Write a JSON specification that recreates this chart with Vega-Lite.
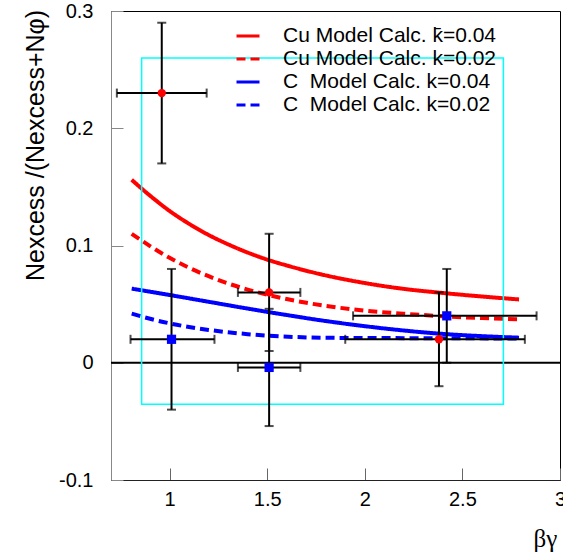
{
  "$schema": "https://vega.github.io/schema/vega-lite/v6.json",
  "width": 449,
  "height": 469,
  "autosize": "none",
  "padding": {"left": 111, "top": 11, "right": 3, "bottom": 73},
  "background": "white",
  "config": {"font": "Liberation Sans", "view": {"stroke": "#000", "strokeWidth": 1}},
  "datasets": {
    "pts": [
      {"mat": "Cu", "x": 0.96, "y": 0.23, "xlo": 0.73, "xhi": 1.19, "ylo": 0.17, "yhi": 0.29},
      {"mat": "Cu", "x": 1.51, "y": 0.06, "xlo": 1.35, "xhi": 1.67, "ylo": 0.01, "yhi": 0.11},
      {"mat": "Cu", "x": 2.38, "y": 0.02, "xlo": 1.9, "xhi": 2.82, "ylo": -0.02, "yhi": 0.06},
      {"mat": "C", "x": 1.01, "y": 0.02, "xlo": 0.8, "xhi": 1.23, "ylo": -0.04, "yhi": 0.08},
      {"mat": "C", "x": 1.51, "y": -0.004, "xlo": 1.35, "xhi": 1.67, "ylo": -0.054, "yhi": 0.046},
      {"mat": "C", "x": 2.42, "y": 0.04, "xlo": 1.94, "xhi": 2.88, "ylo": 0.0, "yhi": 0.08}
    ],
    "curves": [
      {"s": "Cu Model Calc. k\u0304=0.04", "x": 0.806, "y": 0.156},
      {"s": "Cu Model Calc. k\u0304=0.04", "x": 0.9, "y": 0.1425},
      {"s": "Cu Model Calc. k\u0304=0.04", "x": 1.0, "y": 0.1295},
      {"s": "Cu Model Calc. k\u0304=0.04", "x": 1.1, "y": 0.1185},
      {"s": "Cu Model Calc. k\u0304=0.04", "x": 1.2, "y": 0.109},
      {"s": "Cu Model Calc. k\u0304=0.04", "x": 1.3, "y": 0.101},
      {"s": "Cu Model Calc. k\u0304=0.04", "x": 1.4, "y": 0.094},
      {"s": "Cu Model Calc. k\u0304=0.04", "x": 1.5, "y": 0.088},
      {"s": "Cu Model Calc. k\u0304=0.04", "x": 1.6, "y": 0.083},
      {"s": "Cu Model Calc. k\u0304=0.04", "x": 1.8, "y": 0.0745},
      {"s": "Cu Model Calc. k\u0304=0.04", "x": 2.0, "y": 0.068},
      {"s": "Cu Model Calc. k\u0304=0.04", "x": 2.2, "y": 0.063},
      {"s": "Cu Model Calc. k\u0304=0.04", "x": 2.4, "y": 0.0595},
      {"s": "Cu Model Calc. k\u0304=0.04", "x": 2.6, "y": 0.0565},
      {"s": "Cu Model Calc. k\u0304=0.04", "x": 2.79, "y": 0.054},
      {"s": "Cu Model Calc. k=0.02", "x": 0.806, "y": 0.11},
      {"s": "Cu Model Calc. k=0.02", "x": 0.9, "y": 0.0995},
      {"s": "Cu Model Calc. k=0.02", "x": 1.0, "y": 0.0895},
      {"s": "Cu Model Calc. k=0.02", "x": 1.1, "y": 0.081},
      {"s": "Cu Model Calc. k=0.02", "x": 1.2, "y": 0.0738},
      {"s": "Cu Model Calc. k=0.02", "x": 1.3, "y": 0.0676},
      {"s": "Cu Model Calc. k=0.02", "x": 1.4, "y": 0.0624},
      {"s": "Cu Model Calc. k=0.02", "x": 1.5, "y": 0.058},
      {"s": "Cu Model Calc. k=0.02", "x": 1.6, "y": 0.0543},
      {"s": "Cu Model Calc. k=0.02", "x": 1.8, "y": 0.0485},
      {"s": "Cu Model Calc. k=0.02", "x": 2.0, "y": 0.0445},
      {"s": "Cu Model Calc. k=0.02", "x": 2.2, "y": 0.0418},
      {"s": "Cu Model Calc. k=0.02", "x": 2.4, "y": 0.0397},
      {"s": "Cu Model Calc. k=0.02", "x": 2.6, "y": 0.0381},
      {"s": "Cu Model Calc. k=0.02", "x": 2.79, "y": 0.037},
      {"s": "C\u00a0 Model Calc. k=0.04", "x": 0.806, "y": 0.0632},
      {"s": "C\u00a0 Model Calc. k=0.04", "x": 1.0, "y": 0.0578},
      {"s": "C\u00a0 Model Calc. k=0.04", "x": 1.2, "y": 0.052},
      {"s": "C\u00a0 Model Calc. k=0.04", "x": 1.4, "y": 0.0462},
      {"s": "C\u00a0 Model Calc. k=0.04", "x": 1.6, "y": 0.0407},
      {"s": "C\u00a0 Model Calc. k=0.04", "x": 1.8, "y": 0.0356},
      {"s": "C\u00a0 Model Calc. k=0.04", "x": 2.0, "y": 0.0312},
      {"s": "C\u00a0 Model Calc. k=0.04", "x": 2.2, "y": 0.0275},
      {"s": "C\u00a0 Model Calc. k=0.04", "x": 2.4, "y": 0.0246},
      {"s": "C\u00a0 Model Calc. k=0.04", "x": 2.6, "y": 0.0227},
      {"s": "C\u00a0 Model Calc. k=0.04", "x": 2.79, "y": 0.0214},
      {"s": "C\u00a0 Model Calc. k=0.02", "x": 0.806, "y": 0.0419},
      {"s": "C\u00a0 Model Calc. k=0.02", "x": 0.9, "y": 0.0375},
      {"s": "C\u00a0 Model Calc. k=0.02", "x": 1.0, "y": 0.0336},
      {"s": "C\u00a0 Model Calc. k=0.02", "x": 1.1, "y": 0.0305},
      {"s": "C\u00a0 Model Calc. k=0.02", "x": 1.2, "y": 0.028},
      {"s": "C\u00a0 Model Calc. k=0.02", "x": 1.3, "y": 0.026},
      {"s": "C\u00a0 Model Calc. k=0.02", "x": 1.4, "y": 0.0244},
      {"s": "C\u00a0 Model Calc. k=0.02", "x": 1.5, "y": 0.0231},
      {"s": "C\u00a0 Model Calc. k=0.02", "x": 1.65, "y": 0.0219},
      {"s": "C\u00a0 Model Calc. k=0.02", "x": 1.8, "y": 0.0213},
      {"s": "C\u00a0 Model Calc. k=0.02", "x": 2.2, "y": 0.021},
      {"s": "C\u00a0 Model Calc. k=0.02", "x": 2.79, "y": 0.0207}
    ],
    "box": [{"x1": 0.857, "x2": 2.71, "y1": -0.0355, "y2": 0.26}],
    "zero": [{"z": 0}]
  },
  "layer": [
    {
      "data": {"name": "curves"},
      "mark": {"type": "line", "strokeWidth": 4, "interpolate": "monotone"},
      "encoding": {
        "x": {"field": "x", "type": "quantitative", "scale": {"domain": [0.7, 3], "nice": false, "zero": false},
          "axis": {"title": "βγ", "titleFont": "Liberation Serif", "titleFontSize": 25, "titleFontWeight": "normal", "titleColor": "#000",
            "titleX": 434, "titleY": 58, "titleAlign": "center", "titleBaseline": "middle",
            "values": [1, 1.5, 2, 2.5, 3], "format": "~g", "labelFontSize": 20, "labelColor": "#000", "labelPadding": 21,
            "tickSize": -12, "tickColor": "#666", "domainColor": "#222", "grid": false, "labelFlush": false, "labelOverlap": false}},
        "y": {"field": "y", "type": "quantitative", "scale": {"domain": [-0.1, 0.3], "nice": false, "zero": false},
          "axis": {"title": "Nexcess /(Nexcess+Nφ)", "titleFontSize": 25, "titleFontWeight": "normal", "titleColor": "#000",
            "titleX": -76, "titleY": 134, "titleAlign": "center", "titleBaseline": "middle", "titleAngle": -90,
            "values": [-0.1, 0, 0.1, 0.2, 0.3], "labelExpr": "replace(format(datum.value, '~g'), '\u2212', '-')",
            "labelFontSize": 20, "labelColor": "#000", "labelPadding": 30, "labelBaseline": "middle",
            "tickSize": -12, "tickColor": "#888", "domainColor": "#888", "grid": false, "labelFlush": false, "labelOverlap": false}},
        "color": {"field": "s", "type": "nominal",
          "scale": {"domain": ["Cu Model Calc. k\u0304=0.04", "Cu Model Calc. k=0.02", "C\u00a0 Model Calc. k=0.04", "C\u00a0 Model Calc. k=0.02"],
            "range": ["#ff0000", "#ff0000", "#0000ff", "#0000ff"]},
          "legend": {"title": null, "orient": "none", "legendX": 124, "legendY": 12, "padding": 0, "symbolType": "stroke",
            "symbolSize": 529, "symbolStrokeWidth": 3, "labelFontSize": 21, "labelColor": "#000", "labelOffset": 22, "labelLimit": 400,
            "rowPadding": 0}},
        "strokeDash": {"field": "s", "type": "nominal",
          "scale": {"domain": ["Cu Model Calc. k\u0304=0.04", "Cu Model Calc. k=0.02", "C\u00a0 Model Calc. k=0.04", "C\u00a0 Model Calc. k=0.02"],
            "range": [[1, 0], [9, 5], [1, 0], [9, 5]]},
          "legend": {"title": null, "orient": "none", "legendX": 124, "legendY": 12}}
      }
    },
    {
      "data": {"name": "zero"},
      "mark": {"type": "rule", "color": "#000", "strokeWidth": 2},
      "encoding": {"y": {"field": "z", "type": "quantitative", "scale": {"domain": [-0.1, 0.3], "nice": false, "zero": false}}}
    },
    {
      "data": {"name": "box"},
      "mark": {"type": "rect", "fillOpacity": 0, "stroke": "#00ffff", "strokeWidth": 1.5},
      "encoding": {
        "x": {"field": "x1", "type": "quantitative", "scale": {"domain": [0.7, 3], "nice": false, "zero": false}},
        "x2": {"field": "x2"},
        "y": {"field": "y1", "type": "quantitative", "scale": {"domain": [-0.1, 0.3], "nice": false, "zero": false}},
        "y2": {"field": "y2"}
      }
    },
    {
      "data": {"name": "pts"},
      "mark": {"type": "rule", "color": "#000", "strokeWidth": 2},
      "encoding": {
        "x": {"field": "xlo", "type": "quantitative", "scale": {"domain": [0.7, 3], "nice": false, "zero": false}},
        "x2": {"field": "xhi"},
        "y": {"field": "y", "type": "quantitative", "scale": {"domain": [-0.1, 0.3], "nice": false, "zero": false}}
      }
    },
    {
      "data": {"name": "pts"},
      "mark": {"type": "rule", "color": "#000", "strokeWidth": 2},
      "encoding": {
        "x": {"field": "x", "type": "quantitative", "scale": {"domain": [0.7, 3], "nice": false, "zero": false}},
        "y": {"field": "ylo", "type": "quantitative", "scale": {"domain": [-0.1, 0.3], "nice": false, "zero": false}},
        "y2": {"field": "yhi"}
      }
    },
    {
      "data": {"name": "pts"},
      "mark": {"type": "tick", "orient": "vertical", "color": "#000", "size": 9, "thickness": 2},
      "encoding": {
        "x": {"field": "xlo", "type": "quantitative", "scale": {"domain": [0.7, 3], "nice": false, "zero": false}},
        "y": {"field": "y", "type": "quantitative", "scale": {"domain": [-0.1, 0.3], "nice": false, "zero": false}}
      }
    },
    {
      "data": {"name": "pts"},
      "mark": {"type": "tick", "orient": "vertical", "color": "#000", "size": 9, "thickness": 2},
      "encoding": {
        "x": {"field": "xhi", "type": "quantitative", "scale": {"domain": [0.7, 3], "nice": false, "zero": false}},
        "y": {"field": "y", "type": "quantitative", "scale": {"domain": [-0.1, 0.3], "nice": false, "zero": false}}
      }
    },
    {
      "data": {"name": "pts"},
      "mark": {"type": "tick", "orient": "horizontal", "color": "#000", "size": 9, "thickness": 2},
      "encoding": {
        "x": {"field": "x", "type": "quantitative", "scale": {"domain": [0.7, 3], "nice": false, "zero": false}},
        "y": {"field": "ylo", "type": "quantitative", "scale": {"domain": [-0.1, 0.3], "nice": false, "zero": false}}
      }
    },
    {
      "data": {"name": "pts"},
      "mark": {"type": "tick", "orient": "horizontal", "color": "#000", "size": 9, "thickness": 2},
      "encoding": {
        "x": {"field": "x", "type": "quantitative", "scale": {"domain": [0.7, 3], "nice": false, "zero": false}},
        "y": {"field": "yhi", "type": "quantitative", "scale": {"domain": [-0.1, 0.3], "nice": false, "zero": false}}
      }
    },
    {
      "data": {"name": "pts"},
      "transform": [{"filter": "datum.mat == 'Cu'"}],
      "mark": {"type": "point", "shape": "circle", "filled": true, "color": "#ff0000", "size": 70, "opacity": 1},
      "encoding": {
        "x": {"field": "x", "type": "quantitative", "scale": {"domain": [0.7, 3], "nice": false, "zero": false}},
        "y": {"field": "y", "type": "quantitative", "scale": {"domain": [-0.1, 0.3], "nice": false, "zero": false}}
      }
    },
    {
      "data": {"name": "pts"},
      "transform": [{"filter": "datum.mat == 'C'"}],
      "mark": {"type": "point", "shape": "square", "filled": true, "color": "#0000ff", "size": 85, "opacity": 1},
      "encoding": {
        "x": {"field": "x", "type": "quantitative", "scale": {"domain": [0.7, 3], "nice": false, "zero": false}},
        "y": {"field": "y", "type": "quantitative", "scale": {"domain": [-0.1, 0.3], "nice": false, "zero": false}}
      }
    }
  ]
}
